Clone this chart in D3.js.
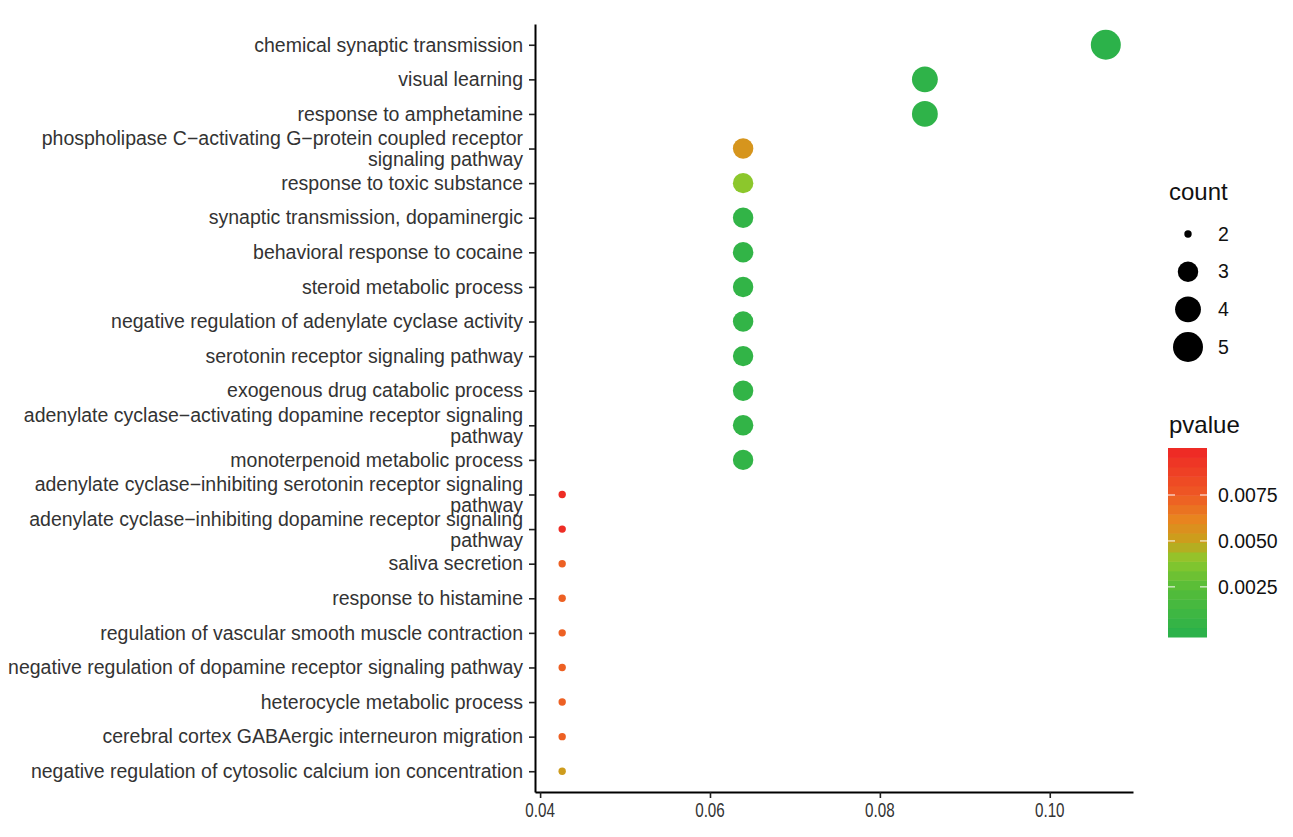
<!DOCTYPE html>
<html>
<head>
<meta charset="utf-8">
<script src="https://cdn.jsdelivr.net/npm/d3@7"></script>
<style>
  body { margin: 0; background: #ffffff; }
  svg { font-family: "Liberation Sans", Arial, Helvetica, sans-serif; }
</style>
</head>
<body>
<svg id="dot-plot" width="1293" height="837"></svg>
<script>
// GO terms, top to bottom ("\n" = wrapped label)
const terms = [
  "chemical synaptic transmission",
  "visual learning",
  "response to amphetamine",
  "phospholipase C\u2212activating G\u2212protein coupled receptor\nsignaling pathway",
  "response to toxic substance",
  "synaptic transmission, dopaminergic",
  "behavioral response to cocaine",
  "steroid metabolic process",
  "negative regulation of adenylate cyclase activity",
  "serotonin receptor signaling pathway",
  "exogenous drug catabolic process",
  "adenylate cyclase\u2212activating dopamine receptor signaling\npathway",
  "monoterpenoid metabolic process",
  "adenylate cyclase\u2212inhibiting serotonin receptor signaling\npathway",
  "adenylate cyclase\u2212inhibiting dopamine receptor signaling\npathway",
  "saliva secretion",
  "response to histamine",
  "regulation of vascular smooth muscle contraction",
  "negative regulation of dopamine receptor signaling pathway",
  "heterocycle metabolic process",
  "cerebral cortex GABAergic interneuron migration",
  "negative regulation of cytosolic calcium ion concentration"
];
const geneRatio = [0.1066, 0.0853, 0.0853, 0.0639, 0.0639, 0.0639, 0.0639, 0.0639, 0.0639, 0.0639, 0.0639,
                   0.0639, 0.0639, 0.0426, 0.0426, 0.0426, 0.0426, 0.0426, 0.0426, 0.0426, 0.0426, 0.0426];
const counts = [5, 4, 4, 3, 3, 3, 3, 3, 3, 3, 3, 3, 3, 2, 2, 2, 2, 2, 2, 2, 2, 2];
const pvalues = [0.00003, 0.0002, 0.0002, 0.0055, 0.0040, 0.0004, 0.0004, 0.0004, 0.0004, 0.0004, 0.0004,
                 0.0004, 0.0004, 0.0097, 0.0097, 0.0073, 0.0073, 0.0073, 0.0073, 0.0073, 0.0073, 0.0052];

const xTicks = [0.04, 0.06, 0.08, 0.10];
const countBreaks = [2, 3, 4, 5];
const pvalueBreaks = [0.0075, 0.0050, 0.0025];
const pRange = [0.00003, 0.0098];
const colorStops = [0.00003, 0.0025, 0.0040, 0.0050, 0.0062, 0.0075, 0.0098];
const colorValues = ["#2cb24a", "#57bd38", "#8cc72c", "#c9a11c", "#e8841f", "#ee5a24", "#ee2b25"];

const svg = d3.select("#dot-plot");
const plot = { left: 535, right: 1133, top: 24, bottom: 792 };
const FONT = "19.5px";

const rows = terms.map((t, i) => ({ term: t, ratio: geneRatio[i], count: counts[i], p: pvalues[i] }));

// scales
const ext = d3.extent(geneRatio);
const pad = (ext[1] - ext[0]) * 0.05;
const x = d3.scaleLinear().domain([ext[0] - pad, ext[1] + pad]).range([plot.left, plot.right]);
const y = d3.scalePoint().domain(terms).range([plot.top, plot.bottom]).padding(0.6);

const sizeT = d3.scaleLinear().domain([2, 5]).range([0, 1]);
const radiusOf = c => d3.scaleLinear().domain([0, 1]).range([3.7, 15])(Math.sqrt(sizeT(c)));
const color = d3.scaleLinear().domain(colorStops).range(colorValues);

// points
svg.append("g")
  .selectAll("circle")
  .data(rows)
  .join("circle")
    .attr("cx", d => x(d.ratio))
    .attr("cy", d => y(d.term))
    .attr("r", d => radiusOf(d.count))
    .attr("fill", d => color(d.p));

// y axis
const yAxis = svg.append("g")
  .attr("transform", `translate(${plot.left},0)`)
  .call(d3.axisLeft(y).tickSize(6).tickPadding(6).tickSizeOuter(0));
yAxis.select(".domain").attr("stroke", "#000").attr("stroke-width", 2);
yAxis.selectAll(".tick line").attr("stroke", "#222").attr("stroke-width", 1.6);
yAxis.selectAll(".tick text")
  .style("font-size", FONT)
  .attr("fill", "#333")
  .each(function (d) {
    const parts = d.split("\n");
    if (parts.length < 2) return;
    const t = d3.select(this).text(null).attr("dy", null);
    parts.forEach((p, i) => {
      t.append("tspan").attr("x", -12).attr("y", i === 0 ? -3.8 : 17.2).text(p);
    });
  });

// x axis (labels drawn by hand so they can be condensed like the original)
const xAxis = svg.append("g")
  .attr("transform", `translate(0,${plot.bottom})`)
  .call(d3.axisBottom(x).tickValues(xTicks).tickFormat("").tickSize(6).tickSizeOuter(0));
xAxis.select(".domain").attr("stroke", "#000").attr("stroke-width", 2);
xAxis.selectAll(".tick line").attr("stroke", "#222").attr("stroke-width", 1.6);

svg.append("g")
  .selectAll("text")
  .data(xTicks)
  .join("text")
    .attr("transform", d => `translate(${x(d)},817) scale(0.78,1)`)
    .attr("text-anchor", "middle")
    .style("font-size", FONT)
    .attr("fill", "#333")
    .text(d3.format(".2f"));

// count legend
const sizeLegend = svg.append("g");
sizeLegend.append("text")
  .attr("x", 1169).attr("y", 200)
  .style("font-size", "24px").attr("fill", "#111")
  .text("count");
const keyY = d3.scalePoint().domain(countBreaks).range([234, 347]);
sizeLegend.selectAll("circle")
  .data(countBreaks)
  .join("circle")
    .attr("cx", 1188)
    .attr("cy", d => keyY(d))
    .attr("r", d => radiusOf(d))
    .attr("fill", "#000");
sizeLegend.selectAll("text.lab")
  .data(countBreaks)
  .join("text")
    .attr("class", "lab")
    .attr("x", 1218)
    .attr("y", d => keyY(d))
    .attr("dy", "0.35em")
    .style("font-size", FONT)
    .attr("fill", "#111")
    .text(d => d);

// pvalue colourbar
const bar = { x: 1168, w: 39, top: 448, bottom: 637, nbin: 20 };
const binH = (bar.bottom - bar.top) / bar.nbin;
const barY = d3.scaleLinear().domain(pRange).range([bar.bottom - binH / 2, bar.top + binH / 2]);
const bins = d3.range(bar.nbin).map(i => pRange[0] + (pRange[1] - pRange[0]) * i / (bar.nbin - 1));

const colorLegend = svg.append("g");
colorLegend.append("text")
  .attr("x", 1169).attr("y", 433)
  .style("font-size", "24px").attr("fill", "#111")
  .text("pvalue");
colorLegend.selectAll("rect")
  .data(bins)
  .join("rect")
    .attr("x", bar.x)
    .attr("y", (d, i) => bar.bottom - (i + 1) * binH)
    .attr("width", bar.w)
    .attr("height", binH + 0.5)
    .attr("fill", d => color(d));
pvalueBreaks.forEach(v => {
  const yy = barY(v);
  colorLegend.append("line").attr("x1", bar.x).attr("x2", bar.x + 7).attr("y1", yy).attr("y2", yy)
    .attr("stroke", "#fff").attr("stroke-width", 1);
  colorLegend.append("line").attr("x1", bar.x + bar.w - 7).attr("x2", bar.x + bar.w).attr("y1", yy).attr("y2", yy)
    .attr("stroke", "#fff").attr("stroke-width", 1);
  colorLegend.append("text")
    .attr("x", 1218).attr("y", yy).attr("dy", "0.35em")
    .style("font-size", FONT).attr("fill", "#111")
    .text(d3.format(".4f")(v));
});
</script>
</body>
</html>
